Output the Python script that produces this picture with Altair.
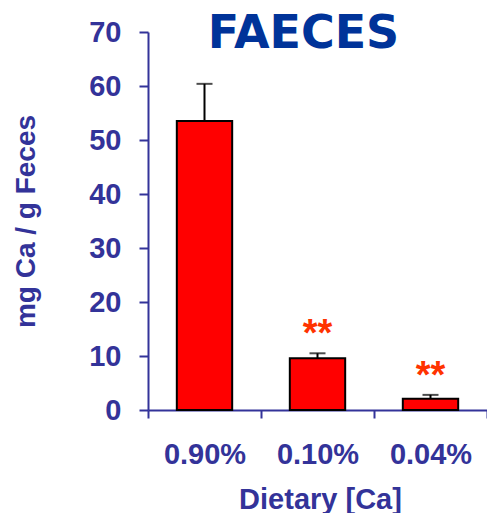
import altair as alt
import pandas as pd

categories = ["0.90%", "0.10%", "0.04%"]
means = [53.5, 9.6, 2.1]
upper = [60.4, 10.5, 2.8]
signif = ["", "**", "**"]

df = pd.DataFrame({"diet": categories, "mean": means, "upper": upper, "sig": signif})

AXC = "#333399"
FONT = "Liberation Sans"

x = alt.X(
    "diet:N",
    sort=categories,
    title="Dietary [Ca]",
    scale=alt.Scale(paddingInner=0, paddingOuter=0),
    axis=alt.Axis(
        tickBand="extent",
        labelAngle=0,
        domainColor=AXC,
        domainWidth=2,
        tickColor=AXC,
        tickWidth=2,
        tickSize=8,
        labelColor=AXC,
        labelFont=FONT,
        labelFontSize=29,
        labelFontWeight="bold",
        labelPadding=22,
        titleColor=AXC,
        titleFont=FONT,
        titleFontSize=29,
        titleFontWeight="bold",
        titlePadding=16,
        titleX=172,
        titleAnchor="middle",
    ),
)
y = alt.Y(
    "mean:Q",
    title="mg Ca / g Feces",
    scale=alt.Scale(domain=[0, 70], nice=False),
    axis=alt.Axis(
        values=[0, 10, 20, 30, 40, 50, 60, 70],
        grid=False,
        domainColor=AXC,
        domainWidth=2,
        tickColor=AXC,
        tickWidth=2,
        tickSize=9,
        labelColor=AXC,
        labelFont=FONT,
        labelFontSize=29,
        labelFontWeight="bold",
        labelPadding=18,
        titleColor=AXC,
        titleFont=FONT,
        titleFontSize=28,
        titleFontWeight="bold",
        titlePadding=48,
    ),
)

base = alt.Chart(df)

bars = base.mark_bar(
    color="#ff0000", stroke="black", strokeWidth=2, width=alt.RelativeBandSize(0.49)
).encode(x=x, y=y)

err = base.mark_rule(color="black", strokeWidth=2).encode(
    x=alt.X("diet:N", sort=categories),
    y=alt.Y("mean:Q"),
    y2="upper:Q",
)

cap = base.mark_tick(color="black", thickness=2, size=16, orient="horizontal").encode(
    x=alt.X("diet:N", sort=categories),
    y=alt.Y("upper:Q"),
)

stars = base.mark_text(
    dy=-18, fontSize=38, fontWeight="bold", font=FONT, color="#ff3300", baseline="middle"
).encode(
    x=alt.X("diet:N", sort=categories),
    y=alt.Y("upper:Q"),
    text="sig:N",
)

chart = (
    alt.layer(bars, err, cap, stars)
    .properties(
        width=339,
        height=378,
        title=alt.TitleParams(
            "FAECES",
            fontSize=46,
            font="DejaVu Sans",
            fontWeight="bold",
            color="#003399",
            anchor="middle",
            dx=-14,
            offset=0,
            dy=40,
        ),
        autosize=alt.AutoSizeParams(type="none"),
        padding={"left": 140, "top": 24, "right": 0, "bottom": 103},
    )
    .configure_view(stroke=None)
)

chart.save("out.html", embed_options={"renderer": "svg", "actions": False})
